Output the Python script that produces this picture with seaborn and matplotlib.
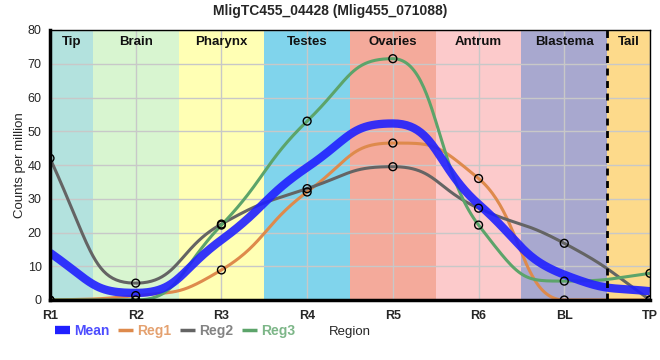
import numpy as np
import pandas as pd
import seaborn as sns
from matplotlib import pyplot as plt
from matplotlib.lines import Line2D

regions = ["R1", "R2", "R3", "R4", "R5", "R6", "BL", "TP"]
mean = [14.0, 2.1, 17.8, 39.3, 52.3, 28.4, 7.5, 2.6]
reg1 = [0.0, 1.3, 8.9, 32.0, 46.5, 36.0, 0.0, 0.0]
reg2 = [42.0, 5.0, 22.5, 33.0, 39.5, 27.2, 16.8, 0.0]
reg3 = [0.0, 0.0, 22.2, 53.0, 71.5, 22.2, 5.6, 7.9]

bands = ["Tip", "Brain", "Pharynx", "Testes", "Ovaries", "Antrum", "Blastema", "Tail"]
band_colors = ["#b3e2de", "#d8f5d0", "#ffffb4", "#80d4ec", "#f4aa9b",
               "#fccacb", "#a8a8cf", "#fdda8b"]

series = {"Mean": mean, "Reg1": reg1, "Reg2": reg2, "Reg3": reg3}
colors = {"Mean": "#2020ff", "Reg1": "#de8a4c", "Reg2": "#646464", "Reg3": "#5ca46a"}
widths = {"Mean": 6.0, "Reg1": 2.2, "Reg2": 2.2, "Reg3": 2.2}


def smooth_curve(y, n=50, k=0.5):
    # monotone tangents, bezier control points k*dx away from each point
    y = np.asarray(y, float)
    s = np.diff(y)
    t = np.zeros(len(y))
    for i in range(1, len(y) - 1):
        s0, s1 = s[i - 1], s[i]
        p = (s0 + s1) / 2
        t[i] = (np.sign(s0) + np.sign(s1)) * min(abs(s0), abs(s1), 0.5 * abs(p))
    t[0] = (3 * s[0] - t[1]) / 2
    t[-1] = (3 * s[-1] - t[-2]) / 2
    u = np.linspace(0, 1, n, endpoint=False)
    b0, b1, b2, b3 = (1 - u)**3, 3 * u * (1 - u)**2, 3 * u**2 * (1 - u), u**3
    xs, ys = [], []
    for i in range(len(y) - 1):
        xs.append(i + b1 * k + b2 * (1 - k) + b3)
        ys.append(b0 * y[i] + b1 * (y[i] + k * t[i]) + b2 * (y[i + 1] - k * t[i + 1]) + b3 * y[i + 1])
    xs.append([len(y) - 1])
    ys.append([y[-1]])
    return np.concatenate(xs), np.concatenate(ys)


rows = []
for name, vals in series.items():
    xs, ys = smooth_curve(vals)
    rows.append(pd.DataFrame({"x": xs, "y": ys, "series": name}))
smooth = pd.concat(rows)

pts = pd.concat([pd.DataFrame({"x": np.arange(len(regions)), "y": series[k], "series": k})
                 for k in ["Reg1", "Reg2", "Reg3"]])

sns.set_style("white")
plt.rcParams["font.family"] = ["Liberation Sans", "DejaVu Sans"]

fig = plt.figure(figsize=(6.6, 3.6), dpi=100)
ax = fig.add_axes([50 / 660, 60 / 360, 600 / 660, 270 / 360])

for i, (b, c) in enumerate(zip(bands, band_colors)):
    lo = max(i - 0.5, 0)
    hi = min(i + 0.5, len(regions) - 1)
    ax.axvspan(lo, hi, color=c, lw=0, zorder=0)
    ax.text((lo + hi) / 2, 78.3, b, ha="center", va="top", fontsize=9.5,
            fontweight="bold", color="#111111")

for v in range(0, 81, 10):
    ax.axhline(v, color="#c8c8c8", lw=1, zorder=1)
for i in range(len(regions)):
    ax.axvline(i, color="#c8c8c8", lw=1, zorder=1)

for name in ["Reg1", "Reg2", "Reg3", "Mean"]:
    sns.lineplot(data=smooth[smooth.series == name], x="x", y="y", color=colors[name],
                 lw=widths[name], alpha=0.9 if name == "Mean" else 1, ax=ax,
                 legend=False, zorder=3, sort=False, solid_capstyle="butt")

sns.scatterplot(data=pts, x="x", y="y", marker="o", s=32, facecolor="none",
                edgecolor="black", linewidth=1, ax=ax, legend=False, zorder=4)

ax.axvline(len(regions) - 1.5, color="black", lw=2, ls=(0, (2.5, 2)), zorder=5)

ax.set_xlim(0, len(regions) - 1)
ax.set_ylim(0, 80)
ax.set_xticks(range(len(regions)))
ax.set_xticklabels(regions, fontweight="bold", fontsize=9)
ax.set_yticks(range(0, 81, 10))
ax.tick_params(axis="y", labelsize=9, length=4, width=1, color="black", pad=2)
ax.tick_params(axis="x", length=5, width=1, color="black", pad=2)
ax.set_xlabel("")
ax.set_ylabel("Counts per million", fontsize=9.5, labelpad=1)
for side in ["top", "right"]:
    ax.spines[side].set_linewidth(1)
for side in ["left", "bottom"]:
    ax.spines[side].set_linewidth(2.5)
for sp in ax.spines.values():
    sp.set_color("black")
    sp.set_zorder(6)

fig.suptitle("MligTC455_04428 (Mlig455_071088)", fontsize=10, fontweight="bold", y=0.99)

handles = [Line2D([], [], color=colors[k], lw=6 if k == "Mean" else 2.5,
                  solid_capstyle="butt") for k in series]
leg = fig.legend(handles, list(series), loc="center left", bbox_to_anchor=(55 / 660, 1 - 331 / 360),
                 ncol=4, frameon=False, handlelength=1.1, handletextpad=0.3, borderpad=0,
                 borderaxespad=0, columnspacing=0.6, prop={"size": 10, "weight": "semibold"})
for txt, k in zip(leg.get_texts(), series):
    txt.set_color(colors[k])
    txt.set_alpha(0.8)
fig.text(350 / 660, 1 - 332 / 360, "Region", ha="center", va="center", fontsize=9.5)

fig.savefig("out.png", dpi=100)
